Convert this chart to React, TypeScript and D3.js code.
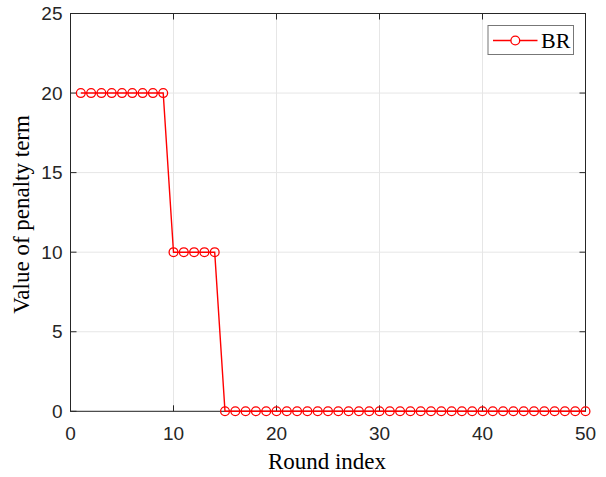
import React from "react";
import * as d3 from "d3";

const rounds: number[] = d3.range(1, 51);
const penaltyBR: number[] = [
  20, 20, 20, 20, 20, 20, 20, 20, 20,
  10, 10, 10, 10, 10,
  0, 0, 0, 0, 0, 0, 0, 0, 0, 0,
  0, 0, 0, 0, 0, 0, 0, 0, 0, 0,
  0, 0, 0, 0, 0, 0, 0, 0, 0, 0,
  0, 0, 0, 0, 0, 0,
];
const xTicks: number[] = [0, 10, 20, 30, 40, 50];
const yTicks: number[] = [0, 5, 10, 15, 20, 25];
const seriesName = "BR";
const xLabel = "Round index";
const yLabel = "Value of penalty term";

const W = 606;
const H = 477;
const left = 70.5;
const right = 585.5;
const top = 13.5;
const bottom = 411.3;

export default function App() {
  const x = d3.scaleLinear().domain([0, 50]).range([left, right]);
  const y = d3.scaleLinear().domain([0, 25]).range([bottom, top]);
  const data = rounds.map((r, i) => ({ r, v: penaltyBR[i] }));
  const line = d3
    .line<{ r: number; v: number }>()
    .x((d) => x(d.r))
    .y((d) => y(d.v));
  const axisColor = "#262626";
  const gridColor = "#e6e6e6";
  const tickLen = 6;
  const red = "#ff0000";
  const sans = "'Liberation Sans', Arial, sans-serif";
  const serif = "'Liberation Serif', 'Times New Roman', serif";

  return (
    <svg
      width={W}
      height={H}
      style={{ position: "absolute", left: 0, top: 0, background: "#fff" }}
    >
      <rect x={0} y={0} width={W} height={H} fill="#fff" />
      {xTicks.map((t) => (
        <line key={"gx" + t} x1={x(t)} x2={x(t)} y1={top} y2={bottom} stroke={gridColor} strokeWidth={1} />
      ))}
      {yTicks.map((t) => (
        <line key={"gy" + t} x1={left} x2={right} y1={y(t)} y2={y(t)} stroke={gridColor} strokeWidth={1} />
      ))}
      {xTicks.map((t) => (
        <g key={"tx" + t}>
          <line x1={x(t)} x2={x(t)} y1={bottom} y2={bottom - tickLen} stroke={axisColor} strokeWidth={1} />
          <line x1={x(t)} x2={x(t)} y1={top} y2={top + tickLen} stroke={axisColor} strokeWidth={1} />
          <text x={x(t)} y={440} textAnchor="middle" fontFamily={sans} fontSize={19} fill={axisColor}>
            {t}
          </text>
        </g>
      ))}
      {yTicks.map((t) => (
        <g key={"ty" + t}>
          <line x1={left} x2={left + tickLen} y1={y(t)} y2={y(t)} stroke={axisColor} strokeWidth={1} />
          <line x1={right} x2={right - tickLen} y1={y(t)} y2={y(t)} stroke={axisColor} strokeWidth={1} />
          <text x={62.5} y={y(t)} dy="0.35em" textAnchor="end" fontFamily={sans} fontSize={19} fill={axisColor}>
            {t}
          </text>
        </g>
      ))}
      <rect x={left} y={top} width={right - left} height={bottom - top} fill="none" stroke={axisColor} strokeWidth={1} />
      <path d={line(data) || ""} fill="none" stroke={red} strokeWidth={1.4} />
      {data.map((d) => (
        <circle key={"m" + d.r} cx={x(d.r)} cy={y(d.v)} r={4.4} fill="none" stroke={red} strokeWidth={1.3} />
      ))}
      <text x={(left + right) / 2 - 1} y={469} textAnchor="middle" fontFamily={serif} fontSize={23} fill="#000">
        {xLabel}
      </text>
      <text
        transform={`translate(29, ${(top + bottom) / 2 + 2}) rotate(-90)`}
        textAnchor="middle"
        fontFamily={serif}
        fontSize={23}
        fill="#000"
      >
        {yLabel}
      </text>
      <rect x={488} y={25.5} width={85.5} height={29} fill="#fff" stroke="#777" strokeWidth={1} />
      <line x1={493} x2={537.5} y1={40.5} y2={40.5} stroke={red} strokeWidth={1.4} />
      <circle cx={515.3} cy={40.5} r={4.4} fill="#fff" stroke={red} strokeWidth={1.3} />
      <text x={541} y={48} fontFamily={serif} fontSize={22} fill="#000">
        {seriesName}
      </text>
    </svg>
  );
}
